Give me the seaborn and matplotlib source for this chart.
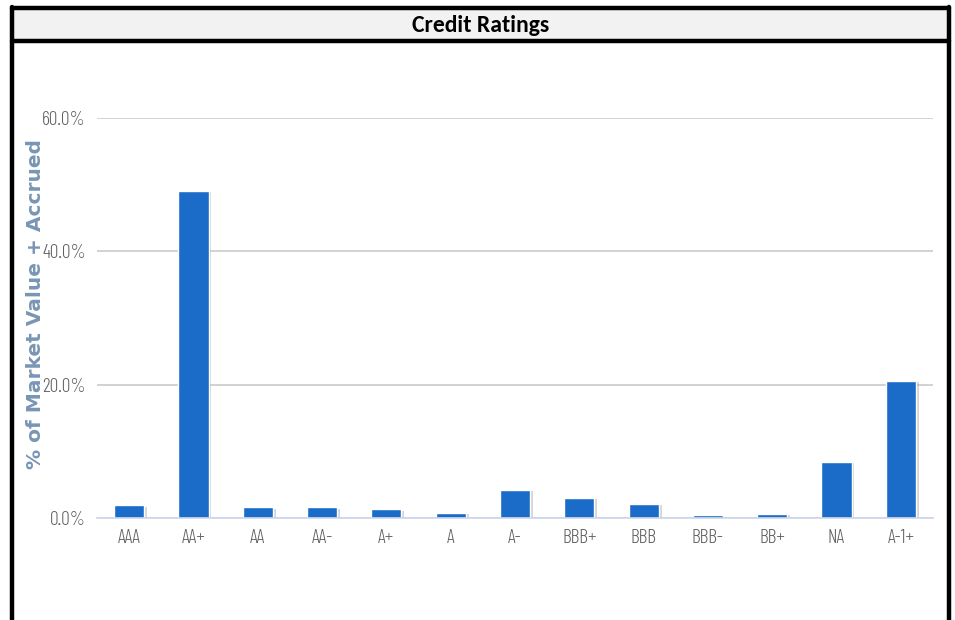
import matplotlib
matplotlib.use("Agg")
import matplotlib.pyplot as plt
import matplotlib.patheffects as pe
from matplotlib.lines import Line2D
from matplotlib.patches import Rectangle
from matplotlib.ticker import FixedLocator
import seaborn as sns
import pandas as pd

# Portfolio allocation by credit rating (% of market value + accrued)
ratings = ["AAA", "AA+", "AA", "AA-", "A+", "A", "A-", "BBB+", "BBB", "BBB-", "BB+", "NA", "A-1+"]
weights = [1.9, 49.1, 1.6, 1.6, 1.3, 0.75, 4.2, 3.0, 2.1, 0.4, 0.65, 8.4, 20.6]
y_ticks = [0, 20, 40, 60]
y_tick_labels = ["0.0%", "20.0%", "40.0%", "60.0%"]

df = pd.DataFrame({"rating": ratings, "weight": weights})

sns.set_theme(style="white")
plt.rcParams["font.family"] = ["Barlow Condensed", "DejaVu Sans"]

W, H = 955, 620
fig = plt.figure(figsize=(W / 100, H / 100), dpi=100)
fig.patch.set_facecolor("white")

def fx(px):
    return px / W

def fy(py):
    return 1 - py / H

# Plot area
ax_left, ax_right, ax_top, ax_bottom = 97, 933, 118, 518
ax = fig.add_axes([fx(ax_left), fy(ax_bottom), fx(ax_right - ax_left), (ax_bottom - ax_top) / H])

bar_color = "#1a6cc8"
sns.barplot(data=df, x="rating", y="weight", color=bar_color, width=0.47,
            saturation=1, edgecolor="white", linewidth=1, ax=ax, zorder=3)
for p in ax.patches:
    p.set_path_effects([pe.SimplePatchShadow(offset=(2, -1), shadow_rgbFace="#888888", alpha=0.35),
                        pe.Normal()])

ax.set_xlim(-0.5, len(ratings) - 0.5)
ax.set_ylim(0, 60)
ax.set_yticks(y_ticks)
ax.set_yticklabels(y_tick_labels)
ax.yaxis.grid(True, color="#c6c6c6", linewidth=1.1, zorder=0)
ax.set_axisbelow(True)

for s in ["top", "right", "left"]:
    ax.spines[s].set_visible(False)
ax.spines["bottom"].set_color("#ccd6eb")
ax.spines["bottom"].set_linewidth(1.2)
ax.spines["bottom"].set_zorder(4)

ax.tick_params(axis="y", length=0, pad=8, labelsize=14, labelcolor="#606060")
ax.tick_params(axis="x", which="major", length=0, pad=8, labelsize=14, labelcolor="#606060")
for lbl in ax.get_xticklabels() + ax.get_yticklabels():
    lbl.set_fontfamily(["Barlow Condensed", "DejaVu Sans"])
    lbl.set_fontweight(300)
ax.xaxis.set_minor_locator(FixedLocator([i - 0.5 for i in range(len(ratings) + 1)]))
ax.tick_params(axis="x", which="minor", length=7, width=1, color="#ccd6eb", direction="out")

ax.set_xlabel("")
ax.set_ylabel("% of Market Value + Accrued", fontsize=14.5, fontweight="bold",
              color="#7896b4", family=["DejaVu Sans"])
ax.yaxis.set_label_coords(-(97 - 45) / (ax_right - ax_left), 0.535)

# Panel frame with title band
band = Rectangle((fx(12), fy(40)), fx(947 - 12), (40 - 8) / H, transform=fig.transFigure,
                 facecolor="#f2f2f2", edgecolor="none", zorder=0)
fig.patches.append(band)
lw = 3.2
fig.add_artist(Line2D([fx(12), fx(949)], [fy(8), fy(8)], color="black", lw=lw, transform=fig.transFigure))
fig.add_artist(Line2D([fx(12), fx(949)], [fy(40.5), fy(40.5)], color="black", lw=lw, transform=fig.transFigure))
fig.add_artist(Line2D([fx(12), fx(12)], [fy(6.5), 0], color="black", lw=lw, transform=fig.transFigure))
fig.add_artist(Line2D([fx(949), fx(949)], [fy(6.5), 0], color="black", lw=lw, transform=fig.transFigure))
fig.text(fx(481), fy(25), "Credit Ratings", ha="center", va="center", fontsize=17,
         fontweight="bold", color="black", family=["Carlito", "Lato", "DejaVu Sans"])

fig.savefig("out.png", dpi=100)
